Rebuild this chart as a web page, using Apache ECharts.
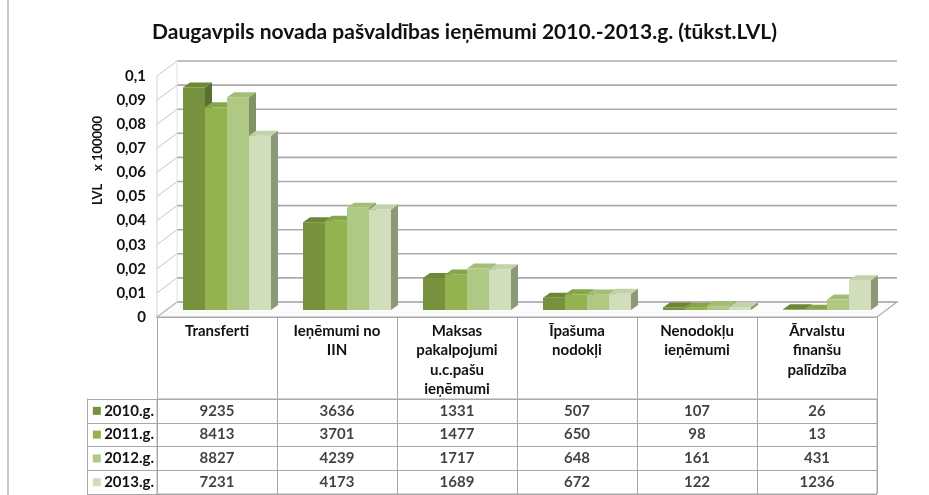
<!DOCTYPE html>
<html>
<head>
<meta charset="utf-8">
<script src="https://cdn.jsdelivr.net/npm/echarts@6/dist/echarts.min.js"></script>
<style>
  html, body { margin: 0; padding: 0; background: #fff; }
  #chart { width: 929px; height: 495px; }
</style>
</head>
<body>
<div id="chart"></div>
<script>
// data (tūkst. LVL)
const categories = ['Transferti', 'Ieņēmumi no\nIIN', 'Maksas\npakalpojumi\nu.c.pašu\nieņēmumi', 'Īpašuma\nnodokļi', 'Nenodokļu\nieņēmumi', 'Ārvalstu\nfinanšu\npalīdzība'];
const years = ['2010.g.', '2011.g.', '2012.g.', '2013.g.'];
const v2010 = [9235, 3636, 1331, 507, 107, 26];
const v2011 = [8413, 3701, 1477, 650, 98, 13];
const v2012 = [8827, 4239, 1717, 648, 161, 431];
const v2013 = [7231, 4173, 1689, 672, 122, 1236];
const yTicks = [0, 0.01, 0.02, 0.03, 0.04, 0.05, 0.06, 0.07, 0.08, 0.09, 0.1];

const seriesValues = [v2010, v2011, v2012, v2013];
const frontColors = ['#76923C', '#93B351', '#AEC983', '#D0DEBB'];
const sideColors = ['#5A6F30', '#6F8A3C', '#7F9462', '#8D9879'];
const topColors = ['#6C8834', '#86A64A', '#A2BE77', '#C2D3A9'];

const FONT = 'Lato';
const WALL_DX = 20, WALL_DY = 15;   // back wall offset
const BAR_OX = 10, BAR_OY = -7;     // bars sit mid-depth
const BAR_W = 22, BAR_DX = 7, BAR_DY = -5;

const chart = echarts.init(document.getElementById('chart'));

function renderWall(params, api) {
  const cs = params.coordSys;
  const v = api.value(0);
  const y = api.coord([0, v])[1];
  const y0 = api.coord([0, 0])[1];
  const L = cs.x, R = cs.x + cs.width;
  const children = [];
  if (v === 0) {
    children.push({
      type: 'polygon',
      shape: { points: [[L, y], [R, y], [R + WALL_DX, y - WALL_DY], [L + WALL_DX, y - WALL_DY]] },
      style: { fill: '#FBFBFB', stroke: '#ABABAB', lineWidth: 1.2 }
    });
  }
  children.push({ type: 'line', shape: { x1: L, y1: y, x2: L + WALL_DX, y2: y - WALL_DY }, style: { stroke: '#C4C4C4', lineWidth: 1 } });
  children.push({ type: 'line', shape: { x1: L + WALL_DX, y1: y - WALL_DY, x2: R + WALL_DX, y2: y - WALL_DY }, style: { stroke: '#ABABAB', lineWidth: 1.6 } });
  if (v === yTicks[yTicks.length - 1]) {
    children.push({ type: 'line', shape: { x1: L, y1: y, x2: L, y2: y0 }, style: { stroke: '#D0D0D0', lineWidth: 1 } });
    children.push({ type: 'line', shape: { x1: L + WALL_DX, y1: y - WALL_DY, x2: L + WALL_DX, y2: y0 - WALL_DY }, style: { stroke: '#E0E0E0', lineWidth: 1 } });
  }
  return { type: 'group', children: children };
}

function makeBarRenderer(s) {
  return function (params, api) {
    const idx = api.value(0);
    const base = api.coord([idx, 0]);
    const top = api.coord([idx, api.value(1)]);
    const x0 = base[0] - (BAR_W * 4) / 2 + s * BAR_W + BAR_OX;
    const x1 = x0 + BAR_W;
    const yt = top[1] + BAR_OY;
    const yb = base[1] + BAR_OY;
    return {
      type: 'group',
      children: [
        { type: 'polygon', shape: { points: [[x1, yt], [x1 + BAR_DX, yt + BAR_DY], [x1 + BAR_DX, yb + BAR_DY], [x1, yb]] }, style: { fill: sideColors[s] } },
        { type: 'rect', shape: { x: x0, y: yt, width: BAR_W, height: yb - yt }, style: { fill: frontColors[s] } },
        { type: 'polygon', shape: { points: [[x0, yt], [x0 + BAR_DX, yt + BAR_DY], [x1 + BAR_DX, yt + BAR_DY], [x1, yt]] }, style: { fill: topColors[s] } }
      ]
    };
  };
}

const barSeries = seriesValues.map((vals, s) => ({
  name: years[s],
  type: 'custom',
  xAxisIndex: 0,
  yAxisIndex: 0,
  clip: false,
  z: 3,
  renderItem: makeBarRenderer(s),
  encode: { x: 0, y: 1 },
  data: vals.map((v, i) => [i, v / 100000])
}));

const cellData = [];
seriesValues.forEach((vals, r) => vals.forEach((v, c) => cellData.push([c, r, v])));

const rich = { t: { fontFamily: FONT, fontWeight: 'bold', fontSize: 15, color: '#111' } };
frontColors.forEach((c, i) => { rich['s' + i] = { width: 8, height: 8, backgroundColor: c }; });

const option = {
  animation: false,
  backgroundColor: '#fff',
  title: {
    text: 'Daugavpils novada pašvaldības ieņēmumi 2010.-2013.g. (tūkst.LVL)',
    left: 'center',
    top: 17,
    textStyle: { fontFamily: FONT, fontWeight: 'bold', fontSize: 21, color: '#111' }
  },
  graphic: [
    { type: 'line', shape: { x1: 8, y1: 0, x2: 8, y2: 495 }, style: { stroke: '#B5B5B5', lineWidth: 1.5 } }
  ],
  grid: [
    { left: 157, right: 52, top: 76, bottom: 178 },
    { left: 157, right: 52, top: 399, bottom: 1, show: true, borderColor: '#A8A8A8', borderWidth: 1 }
  ],
  xAxis: [
    {
      type: 'category',
      gridIndex: 0,
      data: categories,
      axisLine: { show: true, lineStyle: { color: '#A8A8A8', width: 1.2 } },
      axisTick: { show: true, length: 82, lineStyle: { color: '#A8A8A8' } },
      axisLabel: {
        interval: 0, margin: 4, lineHeight: 19.5,
        fontFamily: FONT, fontWeight: 'bold', fontSize: 15, color: '#111'
      },
      splitLine: { show: false }
    },
    {
      type: 'category',
      gridIndex: 1,
      data: categories,
      axisLine: { show: false },
      axisTick: { show: false },
      axisLabel: { show: false },
      splitLine: { show: true, interval: 0, lineStyle: { color: '#A8A8A8' } }
    }
  ],
  yAxis: [
    {
      type: 'value',
      gridIndex: 0,
      min: 0,
      max: 0.1,
      interval: 0.01,
      name: 'LVL    x 100000',
      nameLocation: 'middle',
      nameGap: 53,
      nameRotate: 90,
      nameTextStyle: { fontFamily: FONT, fontWeight: 'bold', fontSize: 13, color: '#111', padding: [0, 0, 0, 72] },
      axisLine: { show: false },
      axisTick: { show: false },
      splitLine: { show: false },
      axisLabel: {
        margin: 11,
        fontFamily: FONT, fontWeight: 'bold', fontSize: 15, color: '#111',
        formatter: v => String(+v.toFixed(2)).replace('.', ',')
      }
    },
    {
      type: 'category',
      gridIndex: 1,
      inverse: true,
      data: years,
      axisLine: { show: true, lineStyle: { color: '#A8A8A8' } },
      axisTick: { show: true, length: 70, lineStyle: { color: '#A8A8A8' } },
      splitLine: { show: true, interval: 0, lineStyle: { color: '#A8A8A8' } },
      axisLabel: {
        margin: 3,
        formatter: (v, i) => '{s' + i + '|} {t|' + v + '}',
        rich: rich
      }
    },
    {
      type: 'value',
      gridIndex: 1,
      position: 'left',
      offset: 70,
      axisLine: { show: true, lineStyle: { color: '#A8A8A8' } },
      axisTick: { show: false },
      axisLabel: { show: false },
      splitLine: { show: false }
    }
  ],
  series: [
    {
      type: 'custom',
      xAxisIndex: 0,
      yAxisIndex: 0,
      clip: false,
      z: 1,
      silent: true,
      renderItem: renderWall,
      encode: { y: 0 },
      data: yTicks.map(v => [v])
    }
  ].concat(barSeries).concat([
    {
      type: 'scatter',
      xAxisIndex: 1,
      yAxisIndex: 1,
      symbolSize: 1,
      itemStyle: { color: 'rgba(0,0,0,0)' },
      label: {
        show: true,
        position: 'inside',
        fontFamily: FONT, fontWeight: 'bold', fontSize: 15, color: '#111',
        formatter: p => String(p.value[2])
      },
      data: cellData
    }
  ])
};

chart.setOption(option);
</script>
</body>
</html>
